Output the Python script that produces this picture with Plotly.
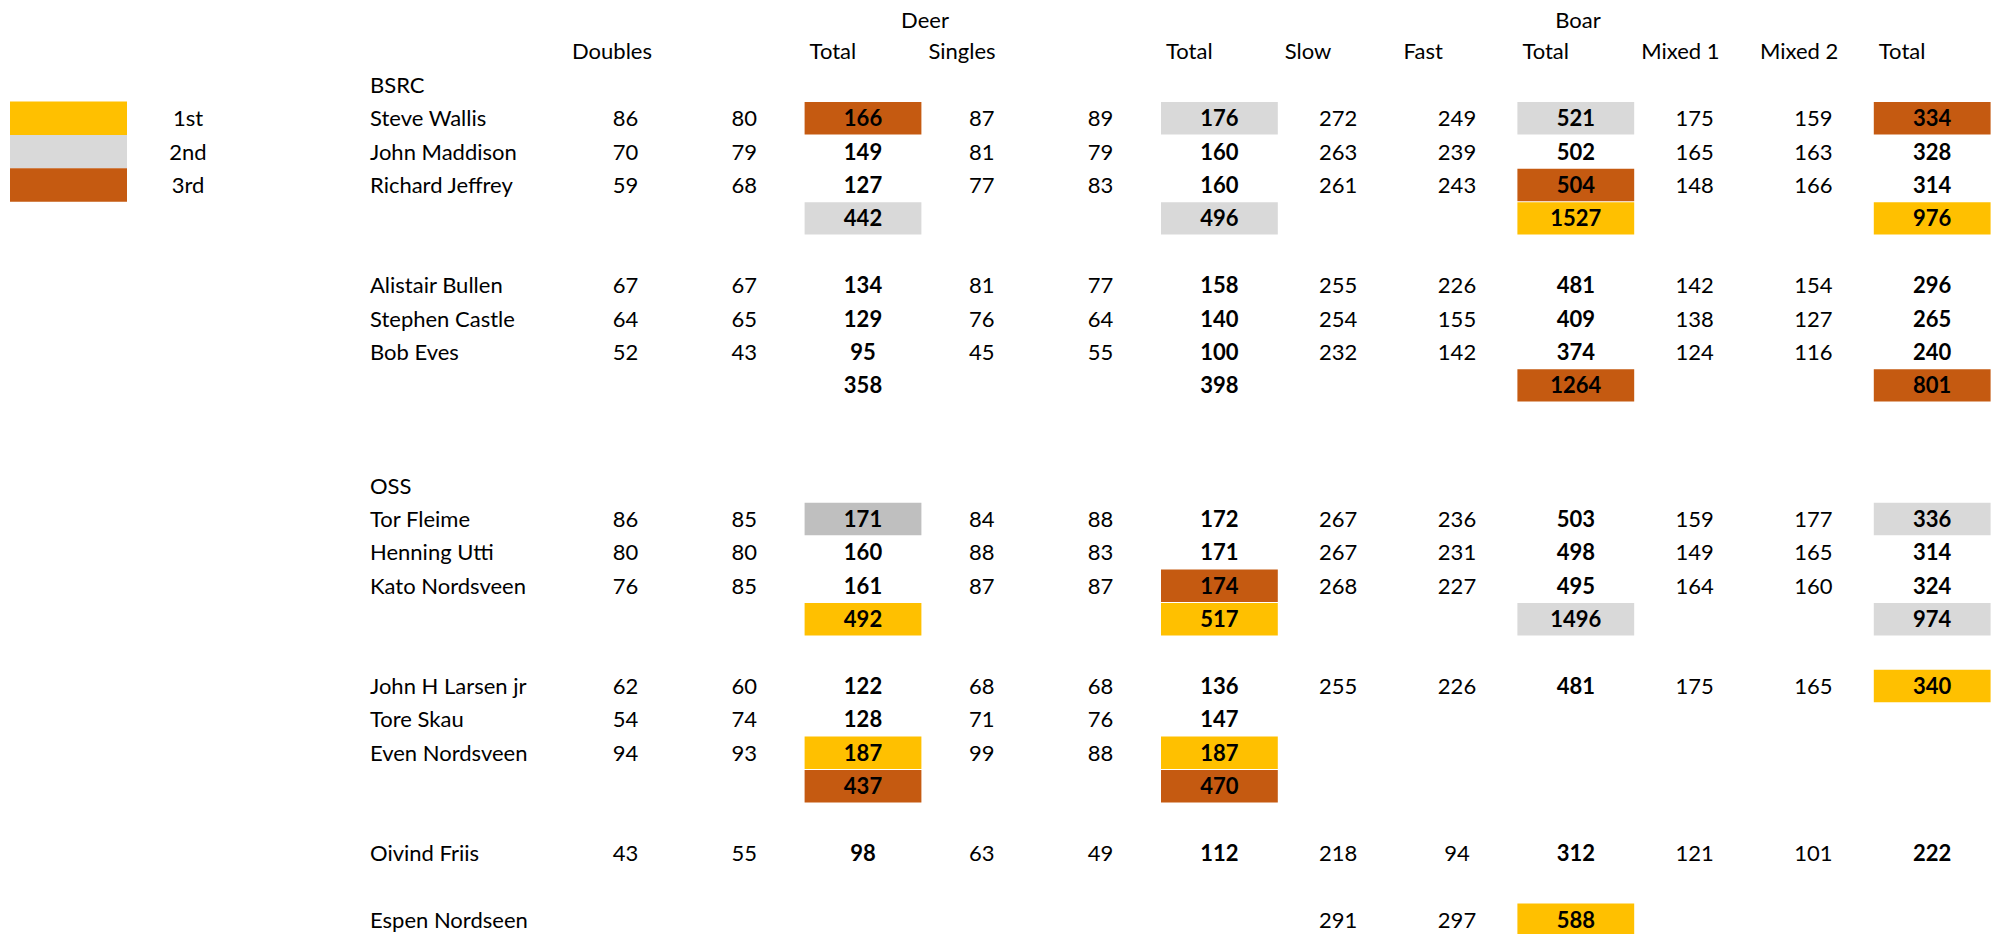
import plotly.graph_objects as go

# ---------------- data ----------------
group_headers = ["Deer", "Boar"]
column_headers = ["Doubles", "", "Total", "Singles", "", "Total", "Slow", "Fast",
                  "Total", "Mixed 1", "Mixed 2", "Total"]
legend_labels = ["1st", "2nd", "3rd"]

# each row: (label, [12 values or None])
rows = [
    ("BSRC", None),
    ("Steve Wallis",     [86, 80, 166, 87, 89, 176, 272, 249, 521, 175, 159, 334]),
    ("John Maddison",    [70, 79, 149, 81, 79, 160, 263, 239, 502, 165, 163, 328]),
    ("Richard Jeffrey",  [59, 68, 127, 77, 83, 160, 261, 243, 504, 148, 166, 314]),
    ("",                 [None, None, 442, None, None, 496, None, None, 1527, None, None, 976]),
    ("", None),
    ("Alistair Bullen",  [67, 67, 134, 81, 77, 158, 255, 226, 481, 142, 154, 296]),
    ("Stephen Castle",   [64, 65, 129, 76, 64, 140, 254, 155, 409, 138, 127, 265]),
    ("Bob Eves",         [52, 43, 95, 45, 55, 100, 232, 142, 374, 124, 116, 240]),
    ("",                 [None, None, 358, None, None, 398, None, None, 1264, None, None, 801]),
    ("", None),
    ("", None),
    ("OSS", None),
    ("Tor Fleime",       [86, 85, 171, 84, 88, 172, 267, 236, 503, 159, 177, 336]),
    ("Henning Utti",     [80, 80, 160, 88, 83, 171, 267, 231, 498, 149, 165, 314]),
    ("Kato Nordsveen",   [76, 85, 161, 87, 87, 174, 268, 227, 495, 164, 160, 324]),
    ("",                 [None, None, 492, None, None, 517, None, None, 1496, None, None, 974]),
    ("", None),
    ("John H Larsen jr", [62, 60, 122, 68, 68, 136, 255, 226, 481, 175, 165, 340]),
    ("Tore Skau",        [54, 74, 128, 71, 76, 147, None, None, None, None, None, None]),
    ("Even Nordsveen",   [94, 93, 187, 99, 88, 187, None, None, None, None, None, None]),
    ("",                 [None, None, 437, None, None, 470, None, None, None, None, None, None]),
    ("", None),
    ("Oivind Friis",     [43, 55, 98, 63, 49, 112, 218, 94, 312, 121, 101, 222]),
    ("", None),
    ("Espen Nordseen",   [None, None, None, None, None, None, 291, 297, 588, None, None, None]),
]

# highlights: (row index in rows, column index, rank) ; rank 1=gold, 2=silver, 3=bronze, 4=dark silver
highlights = [
    (1, 2, 3), (1, 5, 2), (1, 8, 2), (1, 11, 3),
    (3, 8, 3),
    (4, 2, 2), (4, 5, 2), (4, 8, 1), (4, 11, 1),
    (9, 8, 3), (9, 11, 3),
    (13, 2, 4), (13, 11, 2),
    (15, 5, 3),
    (16, 2, 1), (16, 5, 1), (16, 8, 2), (16, 11, 2),
    (18, 11, 1),
    (20, 2, 1), (20, 5, 1),
    (21, 2, 3), (21, 5, 3),
    (25, 8, 1),
]
total_cols = [2, 5, 8, 11]

# ---------------- layout / style ----------------
W, H = 1995, 934
rank_colors = {1: "#FFC000", 2: "#D9D9D9", 3: "#C55A11", 4: "#BFBFBF"}
FONT = "Lato, 'Open Sans', sans-serif"
FS = 22
TXT = "#000000"

row_pitch = 33.4
row0_y = 18.0            # y-centre of the group header row
TEXT_DY = 2.5            # optical correction so glyphs sit centred in the cells
def row_y(k):            # k: 0 = group header, 1 = column header, 2.. = data rows
    return row0_y + row_pitch * k
def text_y(k):
    return row_y(k) + TEXT_DY

col_w = 118.8
num_x0 = 566.0
def col_left(c):
    return num_x0 + col_w * c
def col_center(c):
    return col_left(c) + col_w / 2

name_x = 370.0
legend_box = (10.0, 127.0)
legend_label_x = 188.0
group_header_x = [925.0, 1578.0]

fig = go.Figure()
shapes = []

# legend swatches
for i, lab in enumerate(legend_labels):
    yc = row_y(3 + i)
    shapes.append(dict(type="rect", xref="x", yref="y",
                       x0=legend_box[0], x1=legend_box[1],
                       y0=yc - row_pitch / 2, y1=yc + row_pitch / 2,
                       fillcolor=rank_colors[i + 1], line=dict(width=0), layer="below"))

# highlight cells
for (r, c, rank) in highlights:
    yc = row_y(2 + r)
    shapes.append(dict(type="rect", xref="x", yref="y",
                       x0=col_left(c) + 1, x1=col_left(c) + col_w - 1,
                       y0=yc - row_pitch / 2 + 0.5, y1=yc + row_pitch / 2 - 0.5,
                       fillcolor=rank_colors[rank], line=dict(width=0), layer="below"))

tf = dict(family=FONT, size=FS, color=TXT)

def add_text(x, y, text, pos):
    fig.add_trace(go.Scatter(
        x=x, y=y, text=text, mode="text", textposition=pos,
        textfont=tf, hoverinfo="skip", cliponaxis=False))

# legend labels
add_text([legend_label_x] * 3, [text_y(3 + i) for i in range(3)], legend_labels, "middle center")

# group headers
add_text(group_header_x, [text_y(0) + 2] * 2, group_headers, "middle center")

# column headers (left aligned)
hx, hy, ht = [], [], []
for c, h in enumerate(column_headers):
    if h:
        hx.append(col_left(c) + 6); hy.append(text_y(1)); ht.append(h)
add_text(hx, hy, ht, "middle right")

# row names
nx, ny, nt = [], [], []
for r, (lab, vals) in enumerate(rows):
    if lab:
        nx.append(name_x); ny.append(text_y(2 + r)); nt.append(lab)
add_text(nx, ny, nt, "middle right")

# numbers
rx, ry, rt, bx, by, bt = [], [], [], [], [], []
for r, (lab, vals) in enumerate(rows):
    if not vals:
        continue
    for c, v in enumerate(vals):
        if v is None:
            continue
        if c in total_cols:
            bx.append(col_center(c)); by.append(text_y(2 + r)); bt.append(f"<b>{v}</b>")
        else:
            rx.append(col_center(c)); ry.append(text_y(2 + r)); rt.append(str(v))
add_text(rx, ry, rt, "middle center")
add_text(bx, by, bt, "middle center")

fig.update_layout(
    width=W, height=H, margin=dict(l=0, r=0, t=0, b=0),
    paper_bgcolor="white", plot_bgcolor="white", showlegend=False,
    shapes=shapes,
    xaxis=dict(range=[0, W], visible=False, fixedrange=True),
    yaxis=dict(range=[H, 0], visible=False, fixedrange=True),
)
fig.write_html(
    "out.html",
    config={"displayModeBar": False, "staticPlot": True},
    post_script="document.body.style.margin='0';document.body.style.overflow='hidden';",
)
